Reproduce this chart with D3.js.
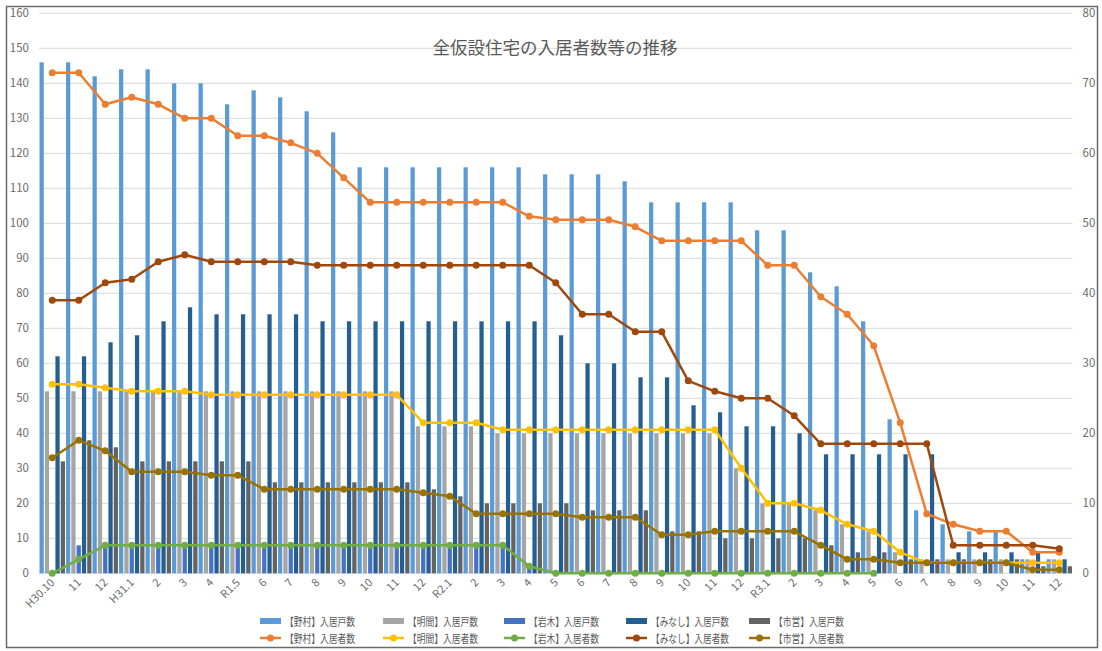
<!DOCTYPE html>
<html>
<head>
<meta charset="utf-8">
<script src="https://cdn.jsdelivr.net/npm/d3@7"></script>
<style>
  body { margin: 0; background: #fff; }
  text { font-family: "Noto Sans CJK JP", "Noto Sans", sans-serif; fill: #595959; }
</style>
</head>
<body>
<svg width="1102" height="651"></svg>
<script>
// 月のラベル
let months = ["H30.10","11","12","H31.1","2","3","4","R1.5","6","7","8","9","10","11","12",
  "R2.1","2","3","4","5","6","7","8","9","10","11","12",
  "R3.1","2","3","4","5","6","7","8","9","10","11","12"];

// 入居戸数 (右軸)
let nomuraHouse = [73,73,71,72,72,70,70,67,69,68,66,63,58,58,58,58,58,58,58,57,57,57,56,53,53,53,53,49,49,43,41,36,22,9,7,6,6,2,2];
let akemaHouse  = [26,26,26,26,26,26,26,26,26,26,26,26,26,26,21,21,21,20,20,20,20,20,20,20,20,20,15,10,10,9,7,6,3,2,2,2,2,2,2];
let iwakiHouse  = [0,4,4,4,4,4,4,4,4,4,4,4,4,4,4,4,4,4,1,0,0,0,0,0,0,0,0,0,0,0,0,0,0,0,0,0,0,0,0];
let minashiHouse = [31,31,33,34,36,38,37,37,37,37,36,36,36,36,36,36,36,36,36,34,30,30,28,28,24,23,21,21,20,17,17,17,17,17,3,3,3,3,2];
let shieiHouse  = [16,19,18,16,16,16,16,16,13,13,13,13,13,13,12,11,10,10,10,10,9,9,9,6,6,5,5,5,5,4,3,3,2,2,2,2,2,1,1];

// 入居者数 (左軸)
let nomuraPeople = [143,143,134,136,134,130,130,125,125,123,120,113,106,106,106,106,106,106,102,101,101,101,99,95,95,95,95,88,88,79,74,65,43,17,14,12,12,6,6];
let akemaPeople  = [54,54,53,52,52,52,51,51,51,51,51,51,51,51,43,43,43,41,41,41,41,41,41,41,41,41,30,20,20,18,14,12,6,3,3,3,3,3,3];
let iwakiPeople  = [0,4,8,8,8,8,8,8,8,8,8,8,8,8,8,8,8,8,2,0,0,0,0,0,0,0,0,0,0,0,0,0,null,null,null,null,null,null,null];
let minashiPeople = [78,78,83,84,89,91,89,89,89,89,88,88,88,88,88,88,88,88,88,83,74,74,69,69,55,52,50,50,45,37,37,37,37,37,8,8,8,8,7];
let shieiPeople  = [33,38,35,29,29,29,28,28,24,24,24,24,24,24,23,22,17,17,17,17,16,16,16,11,11,12,12,12,12,8,4,4,3,3,3,3,3,1,1];

let barSeries = [
  {name: "【野村】入居戸数", values: nomuraHouse, color: "#5B9BD5"},
  {name: "【明間】入居戸数", values: akemaHouse, color: "#A5A5A5"},
  {name: "【岩木】入居戸数", values: iwakiHouse, color: "#4472C4"},
  {name: "【みなし】入居戸数", values: minashiHouse, color: "#255E91"},
  {name: "【市営】入居戸数", values: shieiHouse, color: "#636363"}
];
let lineSeries = [
  {name: "【野村】入居者数", values: nomuraPeople, color: "#ED7D31"},
  {name: "【明間】入居者数", values: akemaPeople, color: "#FFC000"},
  {name: "【岩木】入居者数", values: iwakiPeople, color: "#70AD47"},
  {name: "【みなし】入居者数", values: minashiPeople, color: "#9E480E"},
  {name: "【市営】入居者数", values: shieiPeople, color: "#997300"}
];

let svg = d3.select("svg"),
    width = +svg.attr("width"),
    height = +svg.attr("height");

const plotL = 39, plotR = 1072.5, plotT = 13.3, plotB = 573.3;

let x = d3.scaleBand()
  .domain(d3.range(months.length))
  .range([plotL, plotR])
  .padding(0);

let xSub = d3.scaleBand()
  .domain(d3.range(barSeries.length))
  .range([0, x.bandwidth()])
  .paddingInner(0.2)
  .paddingOuter(0.1);

let yLeft = d3.scaleLinear().domain([0, 160]).range([plotB, plotT]);
let yRight = d3.scaleLinear().domain([0, 80]).range([plotB, plotT]);

// 外枠
svg.append("rect")
  .attr("x", 6.5).attr("y", 6.5)
  .attr("width", 1091).attr("height", 641)
  .attr("fill", "none")
  .attr("stroke", "#6b6b6b")
  .attr("stroke-width", 1.5);

// グリッド
svg.append("g")
  .selectAll("line")
  .data(d3.range(0, 161, 10))
  .enter().append("line")
  .attr("x1", plotL).attr("x2", plotR)
  .attr("y1", d => yLeft(d)).attr("y2", d => yLeft(d))
  .attr("stroke", "#d9d9d9")
  .attr("stroke-width", 1);

// 左軸
let axisL = svg.append("g")
  .attr("transform", `translate(${plotL - 6},0)`)
  .call(d3.axisLeft(yLeft).tickValues(d3.range(0, 161, 10)).tickSize(0).tickPadding(4));
axisL.select(".domain").remove();
axisL.selectAll("text").attr("font-size", 11.5).style("fill", "#6b6b6b");

// 右軸
let axisR = svg.append("g")
  .attr("transform", `translate(${plotR + 6},0)`)
  .call(d3.axisRight(yRight).tickValues(d3.range(0, 81, 10)).tickSize(0).tickPadding(4));
axisR.select(".domain").remove();
axisR.selectAll("text").attr("font-size", 11.5).style("fill", "#6b6b6b");

// 棒
barSeries.forEach((s, si) => {
  svg.append("g")
    .selectAll("rect")
    .data(s.values)
    .enter().append("rect")
    .attr("x", (d, i) => x(i) + xSub(si))
    .attr("width", xSub.bandwidth())
    .attr("y", d => yRight(d))
    .attr("height", d => plotB - yRight(d))
    .attr("fill", s.color);
});

// 折れ線
lineSeries.forEach(s => {
  let line = d3.line()
    .defined(d => d != null)
    .x((d, i) => x(i) + x.bandwidth() / 2)
    .y(d => yLeft(d));

  svg.append("path")
    .datum(s.values)
    .attr("d", line)
    .attr("fill", "none")
    .attr("stroke", s.color)
    .attr("stroke-width", 2.5)
    .attr("stroke-linejoin", "round");

  svg.append("g")
    .selectAll("circle")
    .data(s.values.map((v, i) => ({v, i})).filter(d => d.v != null))
    .enter().append("circle")
    .attr("cx", d => x(d.i) + x.bandwidth() / 2)
    .attr("cy", d => yLeft(d.v))
    .attr("r", 3.5)
    .attr("fill", s.color);
});

// X軸ラベル
svg.append("g")
  .selectAll("text")
  .data(months)
  .enter().append("text")
  .attr("transform", (d, i) => `translate(${x(i) + x.bandwidth() / 2 + 3},${plotB + 10}) rotate(-45)`)
  .attr("text-anchor", "end")
  .attr("font-size", 11)
  .style("fill", "#6b6b6b")
  .text(d => d);

// タイトル
svg.append("text")
  .attr("x", 555)
  .attr("y", 54)
  .attr("text-anchor", "middle")
  .attr("font-size", 17.5)
  .text("全仮設住宅の入居者数等の推移");

// 凡例 (文字幅を元の図に合わせて詰める)
let legendX = [260, 383, 504, 626, 749];
let legendW = d => d.length > 8 ? 78 : 70;
let legend = svg.append("g");
barSeries.forEach((s, i) => {
  legend.append("rect")
    .attr("x", legendX[i]).attr("y", 618)
    .attr("width", 21).attr("height", 6)
    .attr("fill", s.color);
  legend.append("text")
    .attr("x", legendX[i] + 25).attr("y", 625.5)
    .attr("font-size", 11)
    .attr("textLength", legendW(s.name))
    .attr("lengthAdjust", "spacingAndGlyphs")
    .text(s.name);
});
lineSeries.forEach((s, i) => {
  legend.append("line")
    .attr("x1", legendX[i]).attr("x2", legendX[i] + 21)
    .attr("y1", 638).attr("y2", 638)
    .attr("stroke", s.color).attr("stroke-width", 2.5);
  legend.append("circle")
    .attr("cx", legendX[i] + 10.5).attr("cy", 638)
    .attr("r", 3.5).attr("fill", s.color);
  legend.append("text")
    .attr("x", legendX[i] + 25).attr("y", 642.5)
    .attr("font-size", 11)
    .attr("textLength", legendW(s.name))
    .attr("lengthAdjust", "spacingAndGlyphs")
    .text(s.name);
});
</script>
</body>
</html>
